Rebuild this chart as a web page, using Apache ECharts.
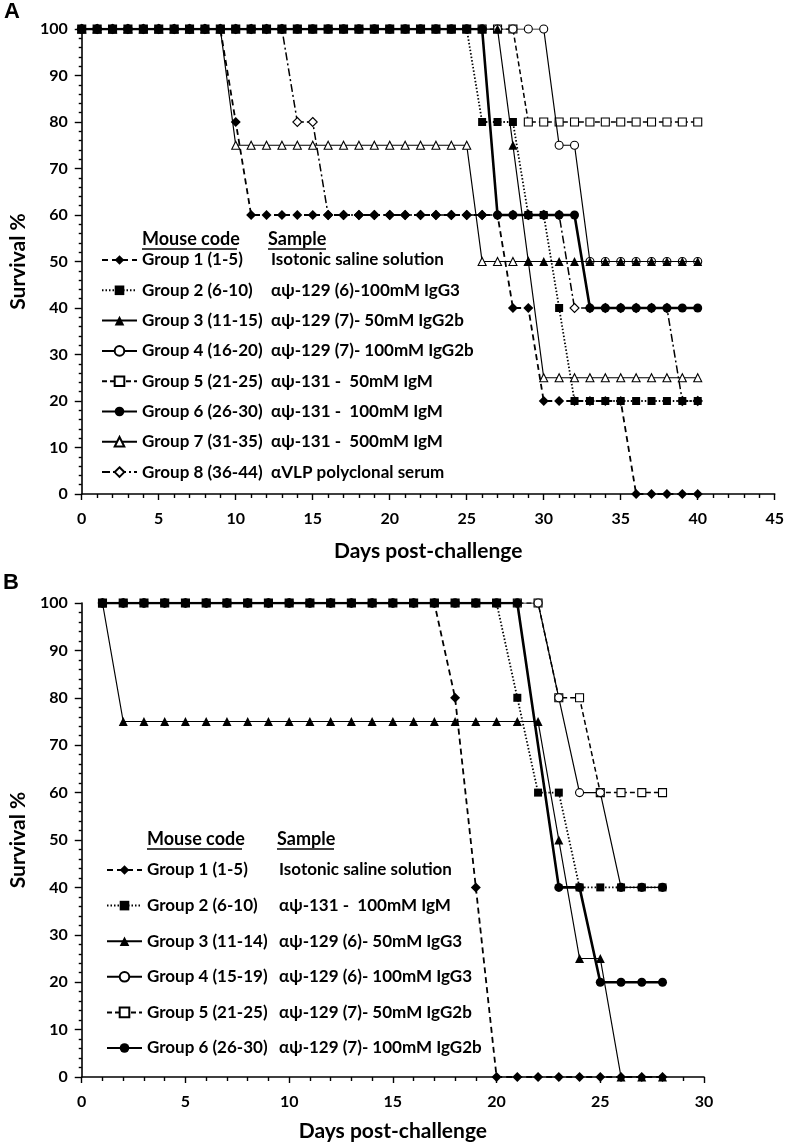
<!DOCTYPE html>
<html>
<head>
<meta charset="utf-8">
<script src="https://cdn.jsdelivr.net/npm/echarts@6/dist/echarts.min.js"></script>
<style>
html,body{margin:0;padding:0;background:#fff;}
#chart{width:787px;height:1147px;}
</style>
</head>
<body>
<div id="chart"></div>
<script>
// ---------- Panel A data ----------
const daysA = [0,1,2,3,4,5,6,7,8,9,10,11,12,13,14,15,16,17,18,19,20,21,22,23,24,25,26,27,28,29,30,31,32,33,34,35,36,37,38,39,40];
const a1 = [100,100,100,100,100,100,100,100,100,100,80,60,60,60,60,60,60,60,60,60,60,60,60,60,60,60,60,60,40,40,20,20,20,20,20,20,0,0,0,0,0];
const a2 = [100,100,100,100,100,100,100,100,100,100,100,100,100,100,100,100,100,100,100,100,100,100,100,100,100,100,80,80,80,60,60,40,20,20,20,20,20,20,20,20,20];
const a3 = [100,100,100,100,100,100,100,100,100,100,100,100,100,100,100,100,100,100,100,100,100,100,100,100,100,100,100,100,75,50,50,50,50,50,50,50,50,50,50,50,50];
const a4 = [100,100,100,100,100,100,100,100,100,100,100,100,100,100,100,100,100,100,100,100,100,100,100,100,100,100,100,100,100,100,100,75,75,50,50,50,50,50,50,50,50];
const a5 = [100,100,100,100,100,100,100,100,100,100,100,100,100,100,100,100,100,100,100,100,100,100,100,100,100,100,100,100,100,80,80,80,80,80,80,80,80,80,80,80,80];
const a6 = [100,100,100,100,100,100,100,100,100,100,100,100,100,100,100,100,100,100,100,100,100,100,100,100,100,100,100,60,60,60,60,60,60,40,40,40,40,40,40,40,40];
const a7 = [100,100,100,100,100,100,100,100,100,100,75,75,75,75,75,75,75,75,75,75,75,75,75,75,75,75,50,50,50,50,25,25,25,25,25,25,25,25,25,25,25];
const a8 = [100,100,100,100,100,100,100,100,100,100,100,100,100,100,80,80,60,60,60,60,60,60,60,60,60,60,60,60,60,60,60,60,40,40,40,40,40,40,40,20,20];
const codesA = ["Group 1 (1-5)","Group 2 (6-10)","Group 3 (11-15)","Group 4 (16-20)","Group 5 (21-25)","Group 6 (26-30)","Group 7 (31-35)","Group 8 (36-44)"];
const samplesA = ["Isotonic saline solution","αψ-129 (6)-100mM IgG3","αψ-129 (7)- 50mM IgG2b","αψ-129 (7)- 100mM IgG2b","αψ-131 -  50mM IgM","αψ-131 -  100mM IgM","αψ-131 -  500mM IgM","αVLP polyclonal serum"];

// ---------- Panel B data ----------
const daysB = [1,2,3,4,5,6,7,8,9,10,11,12,13,14,15,16,17,18,19,20,21,22,23,24,25,26,27,28];
const b1 = [100,100,100,100,100,100,100,100,100,100,100,100,100,100,100,100,100,80,40,0,0,0,0,0,0,0,0,0];
const b2 = [100,100,100,100,100,100,100,100,100,100,100,100,100,100,100,100,100,100,100,100,80,60,60,40,40,40,40,40];
const b3 = [100,75,75,75,75,75,75,75,75,75,75,75,75,75,75,75,75,75,75,75,75,75,50,25,25,0,0,0];
const b4 = [100,100,100,100,100,100,100,100,100,100,100,100,100,100,100,100,100,100,100,100,100,100,80,60,60,40,40,40];
const b5 = [100,100,100,100,100,100,100,100,100,100,100,100,100,100,100,100,100,100,100,100,100,100,80,80,60,60,60,60];
const b6 = [100,100,100,100,100,100,100,100,100,100,100,100,100,100,100,100,100,100,100,100,100,null,40,40,20,20,20,20];
const codesB = ["Group 1 (1-5)","Group 2 (6-10)","Group 3 (11-14)","Group 4 (15-19)","Group 5 (21-25)","Group 6 (26-30)"];
const samplesB = ["Isotonic saline solution","αψ-131 -  100mM IgM","αψ-129 (6)- 50mM IgG3","αψ-129 (6)- 100mM IgG3","αψ-129 (7)- 50mM IgG2b","αψ-129 (7)- 100mM IgG2b"];

const xTicksA = {min:0, max:45, interval:5};
const xTicksB = {min:0, max:30, interval:5};
const yTicks = {min:0, max:100, interval:10};

// ---------- styles ----------
const FONT = 'Lato';
const BLK = '#000';
const styles = {
  1:{symbol:'diamond', size:10, fill:BLK, lw:1.8, type:[6,4]},
  2:{symbol:'rect', size:8, fill:BLK, lw:1.8, type:[1.5,2]},
  3:{symbol:'triangle', size:9, fill:BLK, lw:1.2, type:'solid'},
  4:{symbol:'circle', size:8, fill:'#fff', lw:1.2, type:'solid'},
  5:{symbol:'rect', size:8, fill:'#fff', lw:1.5, type:[5,3]},
  6:{symbol:'circle', size:9, fill:BLK, lw:2.6, type:'solid'},
  7:{symbol:'triangle', size:8, fill:'#fff', lw:1.2, type:'solid'},
  8:{symbol:'diamond', size:9, fill:'#fff', lw:1.5, type:[8,3,2,3]}
};
const zOrder = {8:2,7:3,5:4,4:5,3:6,1:7,6:8,2:9};

function mkSeries(name, g, days, vals, idx){
  const s = styles[g];
  return {
    name: name, type:'line', xAxisIndex:idx, yAxisIndex:idx,
    data: days.map((d,i)=>[d, vals[i]]),
    connectNulls:true,
    symbol:s.symbol, symbolSize:s.size, showSymbol:true,
    lineStyle:{color:BLK, width:s.lw, type:s.type},
    itemStyle:{color:s.fill, borderColor:BLK, borderWidth: s.fill==='#fff'?1.1:0},
    z: zOrder[g], animation:false, silent:true
  };
}

const series = [
  mkSeries('A1',1,daysA,a1,0), mkSeries('A2',2,daysA,a2,0), mkSeries('A3',3,daysA,a3,0), mkSeries('A4',4,daysA,a4,0),
  mkSeries('A5',5,daysA,a5,0), mkSeries('A6',6,daysA,a6,0), mkSeries('A7',7,daysA,a7,0), mkSeries('A8',8,daysA,a8,0),
  mkSeries('B1',1,daysB,b1,1), mkSeries('B2',2,daysB,b2,1), mkSeries('B3',3,daysB,b3,1), mkSeries('B4',4,daysB,b4,1),
  mkSeries('B5',5,daysB,b5,1), mkSeries('B6',6,daysB,b6,1)
];

const labelMap = {};
codesA.forEach((c,i)=>{ labelMap['A'+(i+1)] = [c, samplesA[i]]; });
codesB.forEach((c,i)=>{ labelMap['B'+(i+1)] = [c, samplesB[i]]; });

const axisLbl = {color:BLK, fontFamily:FONT, fontWeight:'bold', fontSize:16};
const nameStyle = {color:BLK, fontFamily:FONT, fontWeight:'bold', fontSize:21};
function xAxis(idx, t){
  return {gridIndex:idx, type:'value', min:t.min, max:t.max, interval:t.interval,
    name:'Days post-challenge', nameLocation:'middle', nameGap: idx===0?47:44,
    nameTextStyle:nameStyle,
    axisLine:{show:true, onZero:false, lineStyle:{color:BLK, width:1.6}},
    axisTick:{show:true, inside:false, length:6, lineStyle:{color:BLK, width:1.4}},
    minorTick:{show:true, splitNumber:5, length:4, lineStyle:{color:BLK, width:1.4}},
    axisLabel:Object.assign({margin:17}, axisLbl),
    splitLine:{show:false}, minorSplitLine:{show:false}};
}
function yAxis(idx){
  return {gridIndex:idx, type:'value', min:yTicks.min, max:yTicks.max, interval:yTicks.interval,
    name:'Survival %', nameLocation:'middle', nameGap: idx===0?48:46, nameRotate:90,
    nameTextStyle:nameStyle,
    axisLine:{show:true, onZero:false, lineStyle:{color:BLK, width:1.6}},
    axisTick:{show:true, inside:false, length:7, lineStyle:{color:BLK, width:1.4}},
    minorTick:{show:true, splitNumber:5, length:3, lineStyle:{color:BLK, width:1.4}},
    axisLabel:Object.assign({margin:14}, axisLbl),
    splitLine:{show:false}, minorSplitLine:{show:false}};
}

const LF = 17;
function legend(names, left, top, gap, colW){
  return {
    data:names, orient:'vertical', left:left, top:top, itemWidth:35, itemHeight:12, itemGap:gap,
    selectedMode:false, padding:0,
    formatter:(n)=>'{a|'+labelMap[n][0]+'}{b|'+labelMap[n][1]+'}',
    textStyle:{color:BLK, fontFamily:FONT, fontWeight:'bold', fontSize:LF, lineHeight:20,
      rich:{a:{width:colW, fontFamily:FONT, fontWeight:'bold', fontSize:LF, lineHeight:20, color:BLK},
            b:{fontFamily:FONT, fontWeight:'bold', fontSize:LF, lineHeight:20, color:BLK}}}
  };
}

const hdr = (x,y,t)=>({type:'text', left:x, top:y, style:{text:t, fill:BLK, font:'bold 18px Lato'}});
const uline = (x1,x2,y)=>({type:'line', shape:{x1:x1,y1:y,x2:x2,y2:y}, style:{stroke:BLK, lineWidth:1.4}});

const option = {
  backgroundColor:'#fff',
  animation:false,
  grid:[
    {left:77, top:29, width:701, height:465, containLabel:false},
    {left:73, top:603, width:631, height:474, containLabel:false}
  ],
  xAxis:[xAxis(0,xTicksA), xAxis(1,xTicksB)],
  yAxis:[yAxis(0), yAxis(1)],
  legend:[
    legend(['A1','A2','A3','A4','A5','A6','A7','A8'], 101, 250, 10.3, 129),
    legend(['B1','B2','B3','B4','B5','B6'], 106, 860, 15.6, 132)
  ],
  graphic:[
    {type:'text', left:4, top:1, style:{text:'A', fill:BLK, font:'bold 22px "Liberation Sans"'}},
    {type:'text', left:3, top:572, style:{text:'B', fill:BLK, font:'bold 22px "Liberation Sans"'}},
    hdr(142,230,'Mouse code'), hdr(268,230,'Sample'),
    uline(142,237,249), uline(268,326,249),
    hdr(147,830,'Mouse code'), hdr(277,830,'Sample'),
    uline(147,242,849), uline(277,334,849)
  ],
  series:series
};

const chart = echarts.init(document.getElementById('chart'), null, {renderer:'canvas'});
chart.setOption(option);
</script>
</body>
</html>
